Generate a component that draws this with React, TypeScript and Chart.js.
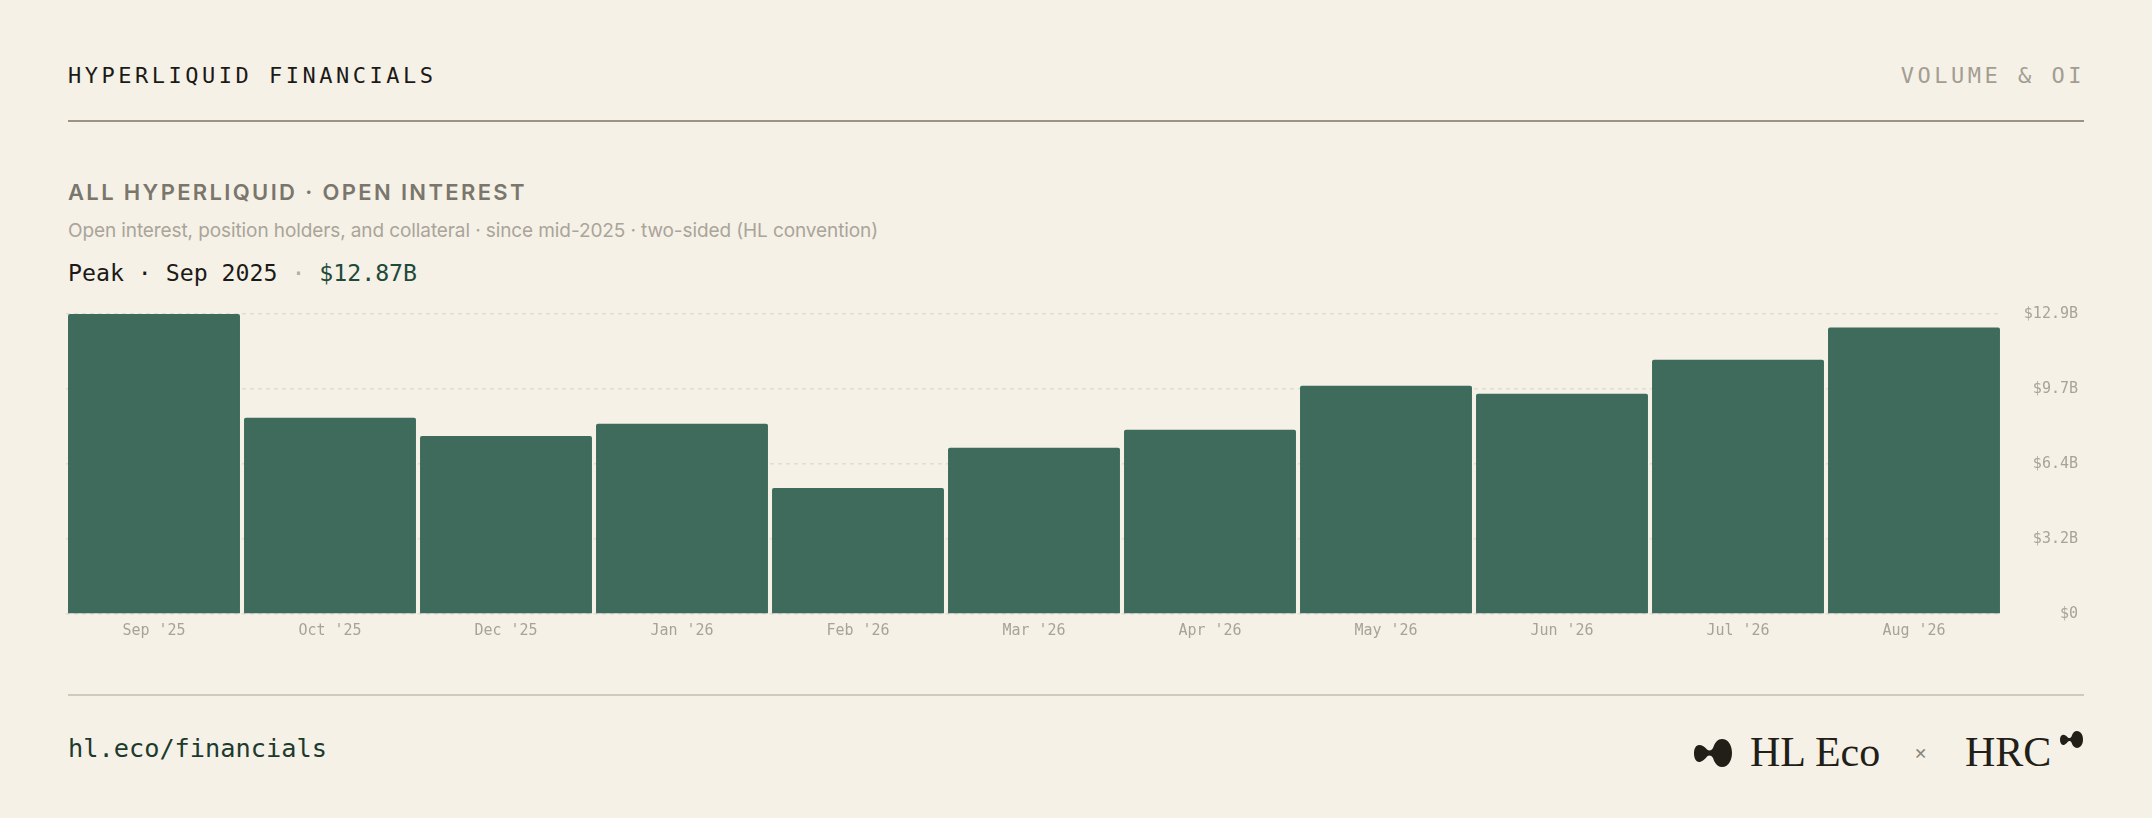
import React, { useEffect, useRef } from "react";
import { Chart, registerables } from "chart.js";

Chart.register(...registerables);

const categories = ["Sep '25", "Oct '25", "Dec '25", "Jan '26", "Feb '26", "Mar '26", "Apr '26", "May '26", "Jun '26", "Jul '26", "Aug '26"];
const openInterestB = [12.87, 8.42, 7.64, 8.16, 5.41, 7.13, 7.9, 9.79, 9.45, 10.91, 12.29];
const yMaxB = 12.87;
const yTickCount = 5;

const BG = "#f5f1e7";
const BAR = "#3e6b5c";
const MONO = "'DejaVu Sans Mono', monospace";
const SANS = "Inter, 'Noto Sans', sans-serif";
const SERIF = "'Liberation Serif', 'DejaVu Serif', serif";

function fmtTick(v: number): string {
  if (Math.abs(v) < 1e-9) return "$0";
  return "$" + v.toFixed(1) + "B";
}

function Blob({ w, h, color }: { w: number; h: number; color: string }) {
  return (
    <svg width={w} height={h} viewBox="0 0 38 28" preserveAspectRatio="none" style={{ display: "block" }}>
      <path
        d="M13 10.5 C15 12 17 12 19 9 C21 3 24 0 28 0 C34 0 38 6 38 14 C38 22 34 28 28 28 C24 28 21 25 19 19 C17 16 15 16 13 17.5 C10 21.5 7 23 5 23 C2 23 0 19 0 14.5 C0 9.5 2 6 5 6 C8 6 11 8 13 10.5 Z"
        fill={color}
      />
    </svg>
  );
}

export default function App() {
  const ref = useRef<HTMLCanvasElement | null>(null);

  useEffect(() => {
    if (!ref.current) return;
    const chart = new Chart(ref.current, {
      type: "bar",
      data: {
        labels: categories,
        datasets: [
          {
            data: openInterestB,
            backgroundColor: BAR,
            borderWidth: 0,
            borderRadius: { topLeft: 2, topRight: 2, bottomLeft: 0, bottomRight: 0 },
            borderSkipped: false,
            barPercentage: 0.977,
            categoryPercentage: 1,
          },
        ],
      },
      options: {
        animation: false,
        responsive: false,
        maintainAspectRatio: false,
        devicePixelRatio: 1,
        layout: { padding: { top: 14, right: 6, bottom: 0, left: 0 } },
        plugins: { legend: { display: false }, tooltip: { enabled: false } },
        scales: {
          x: {
            grid: { display: false, drawTicks: false },
            border: { display: false },
            ticks: {
              color: "#a9a397",
              font: { family: MONO, size: 15 },
              padding: 8,
              maxRotation: 0,
              autoSkip: false,
            },
            afterFit: (s: any) => {
              s.height = 30;
              s.paddingLeft = 0;
              s.paddingRight = 0;
            },
          },
          y: {
            position: "right",
            min: 0,
            max: yMaxB,
            z: 1,
            grid: {
              color: "rgba(170,160,140,0.24)",
              lineWidth: 1.5,
              drawTicks: false,
            },
            border: { display: false, dash: [4, 4] },
            ticks: {
              count: yTickCount,
              color: "#a9a397",
              font: { family: MONO, size: 15 },
              padding: 22,
              crossAlign: "far",
              callback: (v: any) => fmtTick(Number(v)),
            },
            afterFit: (s: any) => {
              s.width = 76;
              s.paddingTop = 0;
              s.paddingBottom = 0;
            },
          },
        },
      },
    });
    return () => chart.destroy();
  }, []);

  const abs = (o: React.CSSProperties): React.CSSProperties => ({
    position: "absolute",
    whiteSpace: "nowrap",
    margin: 0,
    ...o,
  });

  return (
    <div style={{ position: "absolute", left: 0, top: 0, width: 2152, height: 818, background: BG, overflow: "hidden" }}>
      <div style={abs({ left: 68, top: 65, fontFamily: MONO, fontSize: 22, lineHeight: "22px", letterSpacing: 3.5, color: "#1c1a17" })}>
        HYPERLIQUID FINANCIALS
      </div>
      <div style={abs({ right: 68, top: 65, fontFamily: MONO, fontSize: 22, lineHeight: "22px", letterSpacing: 3.5, color: "#a39d92", marginRight: -1 })}>
        VOLUME &amp; OI
      </div>
      <div style={abs({ left: 68, top: 120, width: 2016, height: 2, background: "#9b9282" })} />

      <div style={abs({ left: 68, top: 181, fontFamily: SANS, fontWeight: 600, fontSize: 22, lineHeight: "22px", letterSpacing: 2.35, color: "#7b766c" })}>
        ALL HYPERLIQUID · OPEN INTEREST
      </div>
      <div style={abs({ left: 68, top: 221, fontFamily: SANS, fontSize: 19, lineHeight: "19px", letterSpacing: -0.1, color: "#aaa499" })}>
        Open interest, position holders, and collateral · since mid-2025 · two-sided (HL convention)
      </div>
      <div style={abs({ left: 68, top: 261, fontFamily: MONO, fontSize: 23.2, lineHeight: "23.5px", color: "#1c1a17" })}>
        Peak · Sep 2025 <span style={{ color: "#b3ada2" }}>·</span> <span style={{ color: "#1f4a3a" }}>$12.87B</span>
      </div>

      <div style={abs({ left: 66, top: 300, width: 2018, height: 344 })}>
        <canvas ref={ref} width={2018} height={344} style={{ width: 2018, height: 344, display: "block" }} />
      </div>

      <div style={abs({ left: 68, top: 694, width: 2016, height: 2, background: "#d0cabb" })} />

      <div style={abs({ left: 68, top: 736, fontFamily: MONO, fontSize: 25.3, lineHeight: "25px", color: "#1d3a2e" })}>
        hl.eco/financials
      </div>

      <div style={abs({ left: 1694, top: 739 })}>
        <Blob w={38} h={28} color="#221e18" />
      </div>
      <div style={abs({ left: 1750, top: 731, fontFamily: SERIF, fontSize: 42, lineHeight: "42px", color: "#221e18" })}>
        HL Eco
      </div>
      <div style={abs({ left: 1914, top: 742, fontFamily: SANS, fontSize: 20, lineHeight: "20px", color: "#8c867b" })}>
        ×
      </div>
      <div style={abs({ left: 1965, top: 731, fontFamily: SERIF, fontSize: 42, lineHeight: "42px", color: "#221e18" })}>
        HRC
      </div>
      <div style={abs({ left: 2060, top: 731 })}>
        <Blob w={23} h={17} color="#221e18" />
      </div>
    </div>
  );
}
